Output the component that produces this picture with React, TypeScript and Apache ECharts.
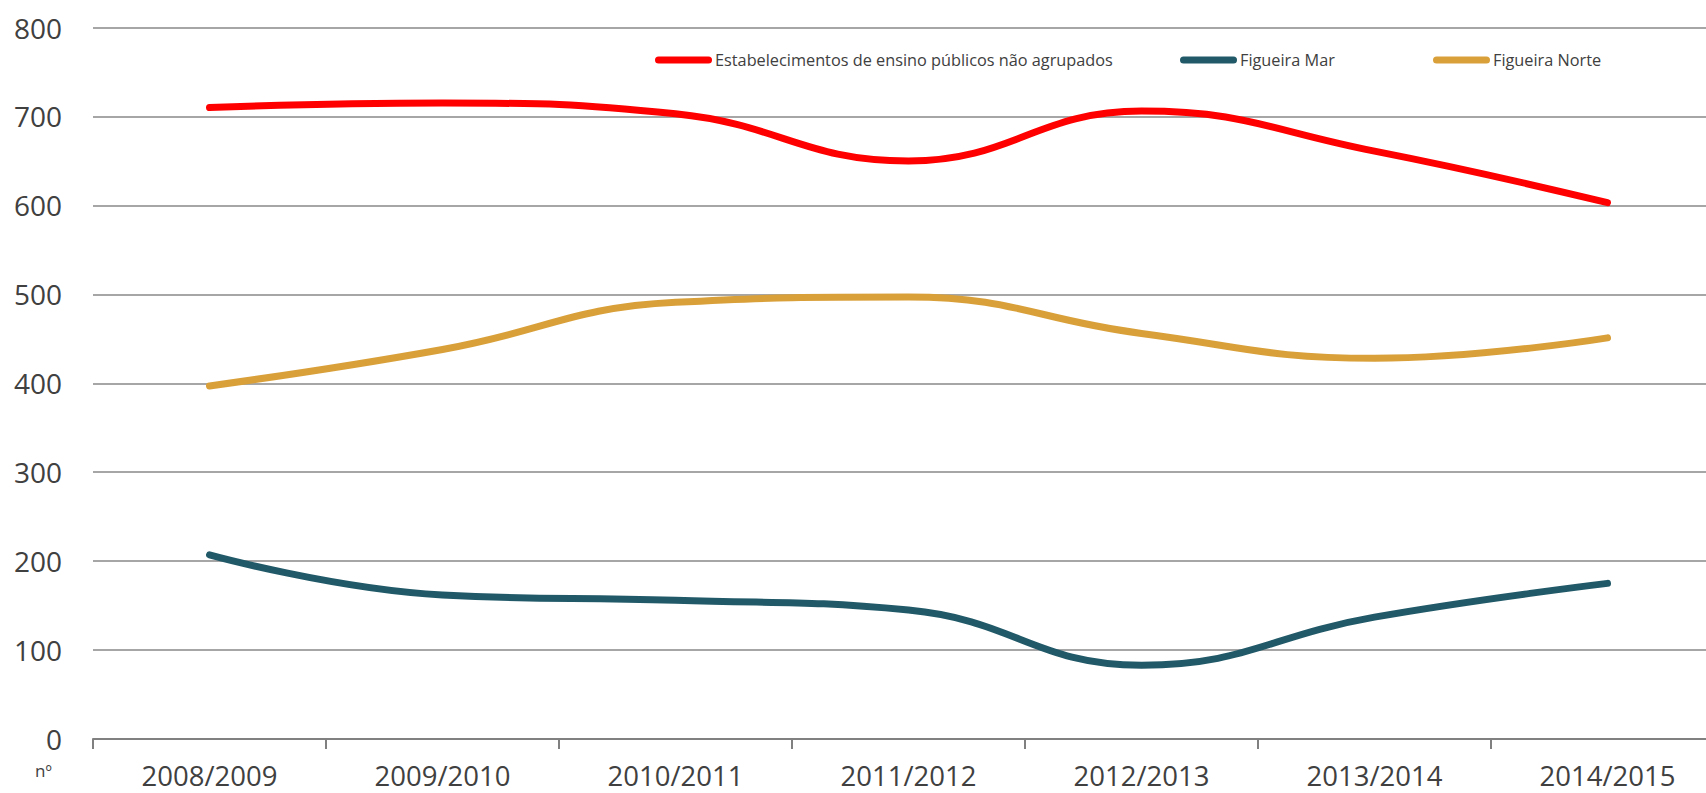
import React, { useEffect, useRef } from "react";
import * as echarts from "echarts";

const categories = ["2008/2009", "2009/2010", "2010/2011", "2011/2012", "2012/2013", "2013/2014", "2014/2015"];
const seriesNames = ["Estabelecimentos de ensino públicos não agrupados", "Figueira Mar", "Figueira Norte"];
const publicosValues = [710, 715, 703, 650, 706, 661, 603];
const marValues = [207, 162, 156, 145, 83, 137, 175];
const norteValues = [397, 438, 491, 497, 456, 428, 451];
const yTicks = { min: 0, max: 800, interval: 100 };
const colors = ["#FF0000", "#215968", "#D9A03A"];
const unitLabel = "nº";

const FONT = "'Open Sans', sans-serif";
const TEXT = "#404040";
const iconPath = "path://M3.5,0 H53.5 A3.5,3.5 0 0 1 53.5,7 H3.5 A3.5,3.5 0 0 1 3.5,0 Z";

export default function App() {
  const ref = useRef<HTMLDivElement>(null);
  useEffect(() => {
    if (!ref.current) return;
    const chart = echarts.init(ref.current, null, { renderer: "svg" });
    const legendLefts = [655, 1180, 1433];
    chart.setOption({
      animation: false,
      backgroundColor: "#ffffff",
      grid: { left: 93, top: 27.5, right: 0, bottom: 54, containLabel: false },
      legend: seriesNames.map((n, i) => ({
        data: [n],
        left: legendLefts[i],
        top: 52,
        icon: iconPath,
        itemWidth: 57,
        itemHeight: 7,
        itemGap: 0,
        padding: 0,
        selectedMode: false,
        textStyle: { fontFamily: FONT, fontSize: 16.3, color: TEXT, padding: [0, 0, 0, -2] },
      })),
      xAxis: {
        type: "category",
        data: categories,
        boundaryGap: true,
        axisLine: { show: true, lineStyle: { color: "#808080", width: 2 } },
        axisTick: { show: true, length: 10, inside: false, lineStyle: { color: "#808080", width: 2 } },
        axisLabel: { fontFamily: FONT, fontSize: 27.5, lineHeight: 28, color: TEXT, margin: 22 },
        splitLine: { show: false },
      },
      yAxis: {
        type: "value",
        min: yTicks.min,
        max: yTicks.max,
        interval: yTicks.interval,
        axisLine: { show: false },
        axisTick: { show: false },
        axisLabel: { fontFamily: FONT, fontSize: 28, color: TEXT, margin: 31 },
        splitLine: { show: true, lineStyle: { color: "#A6A6A6", width: 2 } },
      },
      graphic: [
        {
          type: "text",
          left: 35,
          top: 762,
          style: { text: unitLabel, fontFamily: FONT, fontSize: 17, fill: TEXT },
        },
      ],
      series: [publicosValues, marValues, norteValues].map((d, i) => ({
        name: seriesNames[i],
        type: "line",
        data: d,
        smooth: 0.45,
        symbol: "none",
        color: colors[i],
        lineStyle: { width: 7, color: colors[i], cap: "round" },
      })),
    });
    return () => chart.dispose();
  }, []);
  return (
    <div style={{ position: "absolute", left: 0, top: 0, width: 1706, height: 793, overflow: "hidden" }}>
      <div ref={ref} style={{ position: "absolute", left: 0, top: 0, width: 1724, height: 793 }} />
    </div>
  );
}
